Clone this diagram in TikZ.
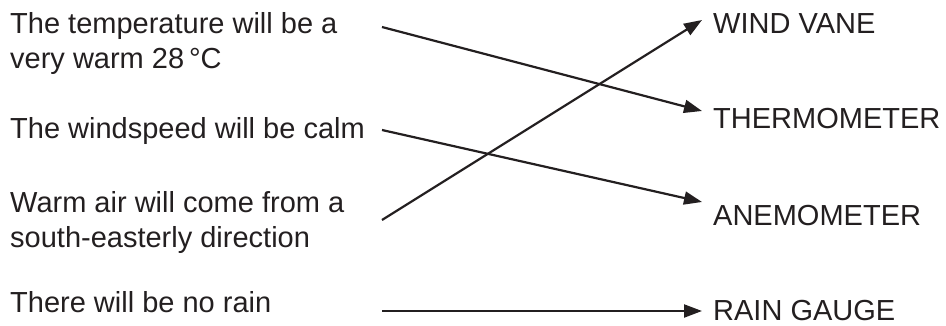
\documentclass[tikz,border=0pt]{standalone}
\usepackage{fontspec}
\setmainfont{Liberation Sans}
\usetikzlibrary{arrows.meta}
\definecolor{ink}{HTML}{231F20}

\begin{document}
\begin{tikzpicture}[
        x=1pt, y=-1pt,
        every node/.style={font=\fontsize{29}{35}\selectfont, text=ink, inner sep=0pt},
        fact/.style={anchor=base west, align=left},
        instr/.style={anchor=base west},
        arr/.style={-{Triangle[length=18pt, width=13pt]}, line width=2.2pt, draw=ink}
        ]
    \useasboundingbox (0,0) rectangle (946,325);

    % --- forecast statements (base = last line) ---
        \node[fact] (temp) at (10,68)  {The temperature will be a\\ very warm 28\,°C};
        \node[fact] (wind) at (10,138) {The windspeed will be calm};
        \node[fact] (air)  at (10,247) {Warm air will come from a\\ south-easterly direction};
        \node[fact] (rain) at (10,312) {There will be no rain};

    % --- instruments ---
        \node[instr] (vane)   at (713,33)  {WIND VANE};
        \node[instr] (thermo) at (713,128) {THERMOMETER};
        \node[instr] (anemo)  at (713,225) {ANEMOMETER};
        \node[instr] (gauge)  at (713,320) {RAIN GAUGE};

    % --- connector ends ---
        \coordinate (tempEnd)  at (382,27);
        \coordinate (windEnd)  at (382,130);
        \coordinate (airEnd)   at (382,220);
        \coordinate (rainEnd)  at (382,311);
        \coordinate (vaneTip)   at (702,20);
        \coordinate (thermoTip) at (702,111);
        \coordinate (anemoTip)  at (702,202);
        \coordinate (gaugeTip)  at (702,311);

    % --- matches ---
        \draw[arr] (tempEnd) -- (thermoTip);
        \draw[arr] (windEnd) -- (anemoTip);
        \draw[arr] (airEnd) -- (vaneTip);
        \draw[arr] (rainEnd) -- (gaugeTip);
\end{tikzpicture}
\end{document}
